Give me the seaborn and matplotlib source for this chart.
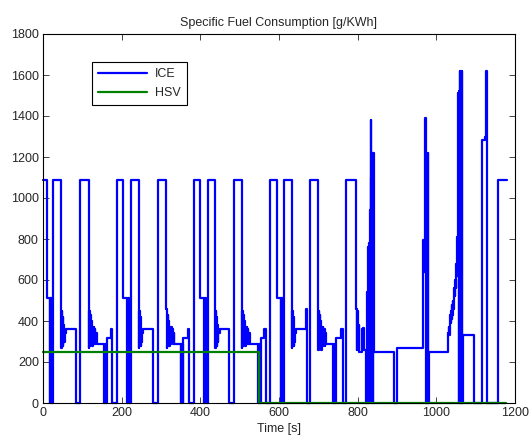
import matplotlib
matplotlib.use("Agg")
import matplotlib.pyplot as plt
import seaborn as sns
import pandas as pd

# ---------------- data ----------------
# ICE specific fuel consumption, step breakpoints (time [s], value [g/kWh])
urban1_t = [0, 9, 17, 18, 23, 26, 46, 47, 48, 49, 50, 51, 52, 53, 55, 58, 84, 95,
            116, 117, 118, 119, 120, 121, 122, 124, 126, 127, 129, 130, 132, 133, 135, 137,
            155, 157, 160, 162, 173, 176, 189]
urban1_v = [1090, 510, 0, 510, 0, 1090, 460, 270, 450, 290, 420, 280, 380, 300, 340, 360, 0, 1090,
            460, 270, 450, 280, 430, 290, 400, 280, 370, 290, 370, 300, 360, 290, 340, 290,
            0, 290, 0, 315, 360, 0, 1090]

urban2_t = [204, 214, 215, 219, 223, 243, 244, 245, 246, 247, 248, 249, 250, 252, 255, 280, 292,
            313, 314, 315, 316, 317, 318, 319, 321, 323, 324, 326, 327, 329, 330, 332, 334,
            350, 352, 355, 357, 368, 372, 385]
urban2_v = [510, 0, 510, 0, 1090, 460, 270, 450, 290, 420, 280, 380, 300, 340, 360, 0, 1090,
            460, 270, 450, 280, 430, 290, 400, 280, 370, 290, 370, 300, 360, 290, 340, 290,
            0, 290, 0, 315, 360, 0, 1090]

urban3_t = [400, 410, 411, 415, 419, 437, 438, 439, 440, 441, 442, 443, 444, 446, 449, 474, 485,
            505, 506, 507, 508, 509, 510, 511, 513, 515, 516, 518, 519, 521, 522, 524, 526,
            546, 548, 551, 553, 563, 567, 577]
urban3_v = [510, 0, 510, 0, 1090, 460, 270, 450, 290, 420, 280, 380, 300, 340, 360, 0, 1090,
            460, 270, 450, 280, 430, 290, 400, 280, 370, 290, 370, 300, 360, 290, 340, 290,
            0, 290, 0, 315, 360, 0, 1090]

urban4_t = [596, 604, 605, 609, 613, 632, 633, 634, 635, 636, 637, 638, 639, 641, 643, 668, 671, 679,
            699, 700, 701, 702, 703, 704, 705, 707, 709, 710, 712, 713, 715, 716, 718, 720,
            738, 740, 743, 746, 758, 762, 771]
urban4_v = [510, 0, 510, 0, 1090, 460, 270, 450, 290, 420, 280, 380, 300, 340, 360, 460, 0, 1090,
            460, 260, 450, 270, 430, 280, 400, 260, 370, 280, 370, 290, 360, 280, 340, 290,
            0, 290, 0, 315, 360, 0, 1090]

eudc_t = [797, 798, 799, 800, 801, 802, 803, 804, 812, 813, 814, 815, 816, 817, 822,
          824, 826, 828, 829, 831, 833, 834, 835, 837, 838, 839, 841, 892, 899,
          967, 969, 970, 972, 974, 975, 977, 978, 980, 982,
          1030, 1032, 1033, 1034, 1035, 1036, 1037, 1038, 1039, 1040, 1041, 1042, 1043, 1044,
          1045, 1046, 1047, 1048, 1049, 1050, 1051, 1052, 1053, 1054, 1055, 1056, 1057, 1058,
          1059, 1060, 1061, 1062, 1063, 1064, 1065, 1068, 1096, 1115, 1124, 1126, 1129,
          1158, 1179]
eudc_v = [460, 260, 450, 270, 420, 260, 380, 250, 360, 260, 365, 270, 340, 260, 0,
          540, 760, 0, 780, 940, 1380, 0, 1100, 1220, 0, 1220, 248, 0, 267,
          795, 640, 1000, 1389, 0, 1219, 0, 1219, 0, 250,
          340, 370, 330, 400, 360, 430, 390, 450, 410, 480, 430, 500, 460, 530,
          490, 560, 520, 600, 560, 620, 680, 620, 810, 1500, 760, 1510, 0, 1520,
          0, 1620, 1500, 1620, 0, 1620, 0, 332, 0, 1283, 1300, 1621, 0,
          1090, 1090]

hsv_t = [0, 550, 1178]
hsv_v = [250, 0, 0]

x_ticks = [0, 200, 400, 600, 800, 1000, 1200]
y_ticks = [0, 200, 400, 600, 800, 1000, 1200, 1400, 1600, 1800]

title = "Specific Fuel Consumption [g/KWh]"
x_label = "Time [s]"

# ---------------- build tables ----------------
ice = pd.DataFrame({
    "t": urban1_t + urban2_t + urban3_t + urban4_t + eudc_t,
    "v": urban1_v + urban2_v + urban3_v + urban4_v + eudc_v,
})
hsv = pd.DataFrame({"t": hsv_t, "v": hsv_v})

# ---------------- style ----------------
sns.set_style("ticks")
plt.rcParams["font.family"] = ["Liberation Sans", "DejaVu Sans"]
plt.rcParams["xtick.direction"] = "in"
plt.rcParams["ytick.direction"] = "in"

fig = plt.figure(figsize=(5.32, 4.42), dpi=100)
ax = fig.add_axes([43 / 532, 39 / 442, 472 / 532, 369 / 442])

sns.lineplot(data=ice, x="t", y="v", ax=ax, drawstyle="steps-post", estimator=None,
             sort=False, color=(0, 0, 1), linewidth=1.6, label="ICE", clip_on=False)
sns.lineplot(data=hsv, x="t", y="v", ax=ax, drawstyle="steps-post", estimator=None,
             sort=False, color=(0, 0.5, 0), linewidth=1.6, label="HSV", clip_on=False)

ax.set_xlim(0, 1200)
ax.set_ylim(0, 1800)
ax.set_xticks(x_ticks)
ax.set_yticks(y_ticks)
ax.tick_params(axis="both", which="both", direction="in", length=4, width=0.6,
               labelsize=9, top=True, right=True, pad=3)
for s in ax.spines.values():
    s.set_visible(True)
    s.set_linewidth(0.8)
    s.set_color("black")

ax.set_title(title, fontsize=9, pad=6)
ax.set_xlabel(x_label, fontsize=9, labelpad=3)
ax.set_ylabel("")

leg = ax.legend(loc="upper left", bbox_to_anchor=(49 / 472, (403 - 62) / 369),
                borderaxespad=0, fontsize=9, handlelength=3.9, frameon=True,
                fancybox=False, framealpha=1, edgecolor="black",
                borderpad=0.5, labelspacing=0.55, handletextpad=0.6)
leg.get_frame().set_linewidth(0.8)

fig.savefig("out.png", dpi=100, facecolor="white")
